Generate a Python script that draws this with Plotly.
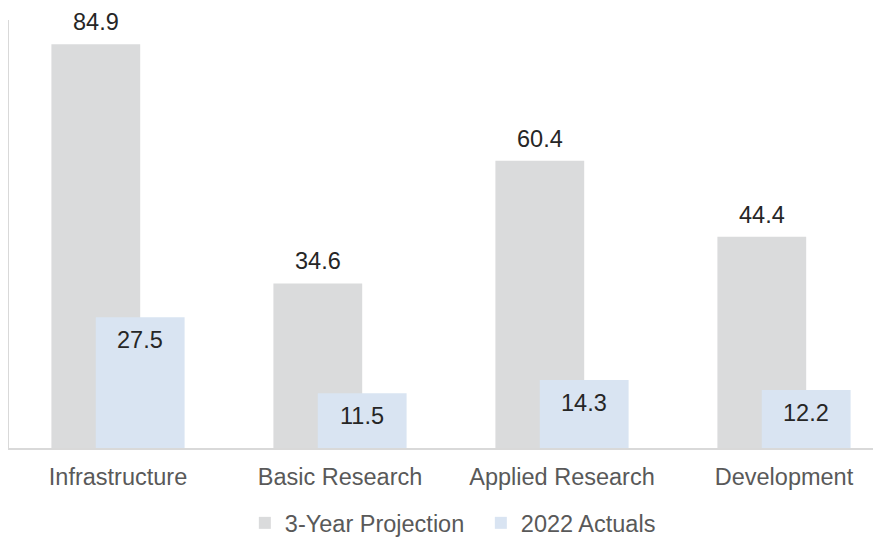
import plotly.graph_objects as go

categories = ["Infrastructure", "Basic Research", "Applied Research", "Development"]
projection = [84.9, 34.6, 60.4, 44.4]
actuals = [27.5, 11.5, 14.3, 12.2]
series_names = ["3-Year Projection", "2022 Actuals"]

FONT = "Liberation Sans, Arial, sans-serif"
GREY = "#DADBDC"
BLUE = "#D9E4F2"

fig = go.Figure()
fig.add_trace(go.Bar(
    x=categories, y=projection, name=series_names[0],
    marker=dict(color=GREY, line=dict(width=0)),
    width=0.4, offset=-0.3, hoverinfo="skip",
))
fig.add_trace(go.Bar(
    x=categories, y=actuals, name=series_names[1],
    marker=dict(color=BLUE, line=dict(width=0)),
    width=0.4, offset=-0.1, hoverinfo="skip",
))

annotations = []
for i, v in enumerate(projection):
    annotations.append(dict(
        x=i - 0.1, y=v, xref="x", yref="y", text=f"{v:.1f}", showarrow=False,
        yanchor="bottom", yshift=8, borderpad=0,
        font=dict(family=FONT, size=23.5, color="#262626"),
    ))
for i, v in enumerate(actuals):
    annotations.append(dict(
        x=i + 0.1, y=v, xref="x", yref="y", text=f"{v:.1f}", showarrow=False,
        yanchor="top", yshift=-9, borderpad=0,
        font=dict(family=FONT, size=23.5, color="#262626"),
    ))

fig.update_layout(
    width=881, height=542,
    margin=dict(l=1, r=0, t=12, b=102, autoexpand=False),
    paper_bgcolor="white", plot_bgcolor="white",
    barmode="overlay",
    font=dict(family=FONT, size=23.5, color="#595959"),
    showlegend=True,
    legend=dict(
        orientation="h", x=0.268, xanchor="left", y=-0.124, yanchor="top",
        font=dict(family=FONT, size=23.5, color="#595959"),
        itemwidth=30, entrywidth=191, traceorder="normal",
    ),
    annotations=annotations,
    xaxis=dict(
        type="category", range=[-0.491, 3.473], automargin=False,
        showline=True, linecolor="#D9D9D9", linewidth=1.5,
        showgrid=False, ticks="", zeroline=False, ticklabelstandoff=7,
        tickfont=dict(family=FONT, size=23.5, color="#595959"),
    ),
    yaxis=dict(
        range=[0, 90], showline=True, linecolor="#D9D9D9", linewidth=1.5,
        automargin=False,
        showgrid=False, showticklabels=False, ticks="", zeroline=False,
    ),
)

fig.write_html("out.html")
